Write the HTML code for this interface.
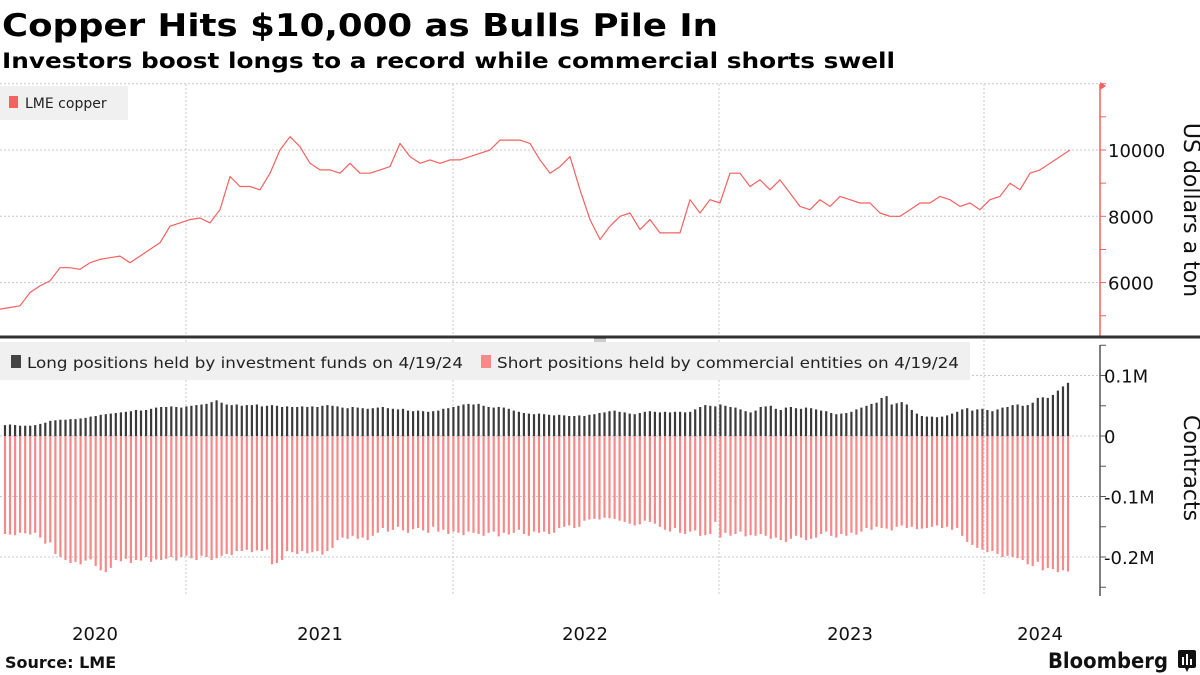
<!DOCTYPE html>
<html><head><meta charset="utf-8"><style>
html,body{margin:0;padding:0;background:#fff;}
svg{display:block;}
text{font-family:"DejaVu Sans","Liberation Sans",sans-serif;}
.ax{font-family:"DejaVu Sans","Liberation Sans",sans-serif;font-size:18px;fill:#111;}
</style></head><body>
<svg id="chart" width="1200" height="675" viewBox="0 0 1200 675" xmlns="http://www.w3.org/2000/svg">
<text x="2" y="36" font-size="31" font-weight="bold" textLength="716" lengthAdjust="spacingAndGlyphs">Copper Hits $10,000 as Bulls Pile In</text>
<text x="2" y="68" font-size="21" font-weight="bold" textLength="893" lengthAdjust="spacingAndGlyphs">Investors boost longs to a record while commercial shorts swell</text>
<g id="grid"></g>
<g id="price"></g>
<g id="bars"></g>
<g id="axes"></g>
<rect x="0" y="86" width="128" height="34" fill="#f0f0f0"/>
<rect x="9" y="96" width="9" height="12" fill="#f4615f"/>
<text x="25" y="108" font-size="14" fill="#222" font-family="Liberation Sans">LME copper</text>
<rect x="0" y="342" width="970" height="38" fill="#f0f0f0"/>
<rect x="11" y="355" width="10" height="13" fill="#444"/>
<text x="27" y="368" font-size="15" fill="#222" textLength="436" lengthAdjust="spacingAndGlyphs">Long positions held by investment funds on 4/19/24</text>
<rect x="481" y="355" width="10" height="13" fill="#f68a8a"/>
<text x="497" y="368" font-size="15" fill="#222" textLength="462" lengthAdjust="spacingAndGlyphs">Short positions held by commercial entities on 4/19/24</text>
<rect x="0" y="335.5" width="1200" height="3" fill="#333"/>
<rect x="594" y="338.5" width="12" height="1" fill="#999"/><rect x="594" y="340.5" width="12" height="1" fill="#999"/>
<text x="1190" y="210" font-size="22" fill="#111" text-anchor="middle" transform="rotate(90 1190 210)" dominant-baseline="middle">US dollars a ton</text>
<text x="1190" y="468" font-size="22" fill="#111" text-anchor="middle" transform="rotate(90 1190 468)" dominant-baseline="middle">Contracts</text>
<text x="5" y="668" font-size="16" font-weight="bold" fill="#111">Source: LME</text>
<text x="1048" y="668" font-size="21" font-weight="bold" fill="#111" textLength="120" lengthAdjust="spacingAndGlyphs" font-family="Liberation Sans">Bloomberg</text>
<g><rect x="1178" y="650" width="18" height="18" rx="2" fill="#111"/><path d="M1185 668 l2 4 l2 -4z" fill="#111"/><rect x="1182" y="657" width="2" height="8" fill="#fff"/><rect x="1186" y="654" width="2" height="11" fill="#fff"/><rect x="1190" y="659" width="2" height="6" fill="#fff"/></g>
</svg>
<script>
// ---- data ----
var priceX = [0,10,20,30,40,50,60,70,80,90,100,110,120,130,140,150,160,170,180,190,200,210,220,230,240,250,260,270,280,290,300,310,320,330,340,350,360,370,380,390,400,410,420,430,440,450,460,470,480,490,500,510,520,530,540,550,560,570,580,590,600,610,620,630,640,650,660,670,680,690,700,710,720,730,740,750,760,770,780,790,800,810,820,830,840,850,860,870,880,890,900,910,920,930,940,950,960,970,980,990,1000,1010,1020,1030,1040,1050,1060,1070];
var priceValues = [5200,5250,5300,5700,5900,6050,6450,6450,6400,6600,6700,6750,6800,6600,6800,7000,7200,7700,7800,7900,7950,7800,8200,9200,8900,8900,8800,9300,10000,10400,10100,9600,9400,9400,9300,9600,9300,9300,9400,9500,10200,9800,9600,9700,9600,9700,9700,9800,9900,10000,10300,10300,10300,10200,9700,9300,9500,9800,8800,7900,7300,7700,8000,8100,7600,7900,7500,7500,7500,8500,8100,8500,8400,9300,9300,8900,9100,8800,9100,8700,8300,8200,8500,8300,8600,8500,8400,8400,8100,8000,8000,8200,8400,8400,8600,8500,8300,8400,8200,8500,8600,9000,8800,9300,9400,9600,9800,10000];
var longs = [18,19,18,17,17,17,18,20,22,25, 26,27,27,28,28,29,30,32,33,35, 36,37,38,39,40,41,43,42,43,45, 47,48,48,49,48,47,49,50,51,52, 53,56,59,55,52,51,52,50,51,51, 52,49,50,51,50,48,49,48,48,49, 48,49,48,50,51,50,49,47,46,48, 47,46,45,46,47,48,46,45,44,45, 42,41,42,41,40,41,42,45,46,48, 50,52,53,52,53,50,48,47,48,47, 45,42,40,38,37,36,37,36,35,34, 35,34,33,33,34,33,35,36,38,39, 41,42,40,39,37,36,38,40,41,40, 39,40,39,40,40,39,40,44,48,51, 50,49,52,50,48,47,44,41,39,42, 48,49,50,45,43,47,48,46,45,47, 46,44,42,41,38,36,37,38,40,44, 47,50,53,55,63,66,52,54,56,52, 43,37,33,32,32,31,32,34,37,40, 44,46,42,44,45,43,41,44,47,48, 51,52,50,51,55,63,64,63,68,75, 82,88];
var shorts = [162,163,164,160,161,163,160,168,178,176, 195,200,205,210,208,212,206,204,215,222, 225,218,205,207,203,210,205,206,200,208, 204,205,203,200,206,200,198,202,205,198, 200,205,202,198,195,197,190,190,188,192, 189,190,188,212,210,205,190,192,195,190, 194,192,190,196,190,185,172,168,170,165, 170,168,172,165,160,152,158,155,150,156, 160,154,152,156,160,150,158,155,162,158, 160,164,158,160,162,165,160,158,166,160, 163,160,155,162,165,158,160,158,162,160, 152,150,148,152,150,140,138,137,138,135, 136,137,140,142,145,148,146,140,142,145, 150,155,158,152,160,162,158,156,165,164, 162,142,168,160,165,162,158,166,164,165, 162,165,170,168,172,175,170,165,168,172, 170,168,162,158,165,168,162,165,160,163, 158,152,155,150,152,153,156,150,148,152, 150,154,153,152,150,148,152,150,155,152, 165,175,180,185,188,192,190,195,200,198, 200,202,205,212,215,208,222,218,220,225, 222,224];
var priceTicks = [6000,8000,10000];
var priceTickLabels = ["6000","8000","10000"];
var posTicks = [100,0,-100,-200];
var posTickLabels = ["0.1M","0","-0.1M","-0.2M"];
var yearLabels = ["2020","2021","2022","2023","2024"];
var yearLabelX = [95,320,585,850,1040];
var yearLines = [186,453,719,984];

// ---- scales ----
var NS="http://www.w3.org/2000/svg";
function yP(v){return 150+(10000-v)*66.3/2000;}
function yC(v){return 436-v*0.605;}
function xBar(i){return 5+i*(1063/(longs.length-1));}
function mk(tag,attrs,parent){var e=document.createElementNS(NS,tag);for(var k in attrs)e.setAttribute(k,attrs[k]);parent.appendChild(e);return e;}
var grid=document.getElementById('grid'),price=document.getElementById('price'),bars=document.getElementById('bars'),axes=document.getElementById('axes');

[12000].concat(priceTicks).forEach(function(v){var l=mk('line',{x1:0,x2:1100,y1:yP(v),y2:yP(v),stroke:'#c8c8c8','stroke-dasharray':'2,2'},grid);

});
posTicks.forEach(function(v){var l=mk('line',{x1:0,x2:1100,y1:yC(v),y2:yC(v),stroke:'#c8c8c8','stroke-dasharray':'2,2'},grid);

});
yearLines.forEach(function(x){var l=mk('line',{x1:x,x2:x,y1:84,y2:596,stroke:'#c8c8c8','stroke-dasharray':'2,2'},grid);

});

var d='';priceValues.forEach(function(v,i){d+=(i?'L':'M')+priceX[i]+' '+yP(v).toFixed(1);});
var pl=mk('path',{d:d,fill:'none',stroke:'#f4615f','stroke-width':1.2,'stroke-linejoin':'round'},price);



longs.forEach(function(v,i){var x=xBar(i);
var r=mk('rect',{x:(x-1.1).toFixed(1),y:yC(v).toFixed(1),width:2.2,height:(v*0.605).toFixed(1),fill:'#3a3a3a'},bars);


var s=shorts[i];
var r2=mk('rect',{x:(x-1.1).toFixed(1),y:436,width:2.2,height:(s*0.605).toFixed(1),fill:'#f68a8a'},bars);

});

var a1=mk('line',{x1:1100,x2:1100,y1:84,y2:336,stroke:'#f4615f','stroke-width':1.5},axes);


mk('path',{d:'M1100 82 l6 4 l-6 4z',fill:'#f4615f'},axes);
for(var v=5000;v<=12000;v+=1000){mk('line',{x1:1100,x2:1106,y1:yP(v),y2:yP(v),stroke:'#f4615f','stroke-width':1},axes);}
priceTicks.forEach(function(v,i){var t=mk('text',{x:1108,y:yP(v)+7,'class':'ax'},axes);t.textContent=priceTickLabels[i];

});
var a2=mk('line',{x1:1100,x2:1100,y1:345,y2:596,stroke:'#555','stroke-width':1.5},axes);


for(var v2=150;v2>=-250;v2-=50){mk('line',{x1:1100,x2:1106,y1:yC(v2),y2:yC(v2),stroke:'#555','stroke-width':1},axes);}
posTicks.forEach(function(v,i){var t=mk('text',{x:1104,y:yC(v)+7,'class':'ax'},axes);t.textContent=posTickLabels[i];

});
yearLabels.forEach(function(s,i){var t=mk('text',{x:yearLabelX[i],y:640,'class':'ax','text-anchor':'middle'},axes);t.textContent=s;

});
</script>
</body></html>
